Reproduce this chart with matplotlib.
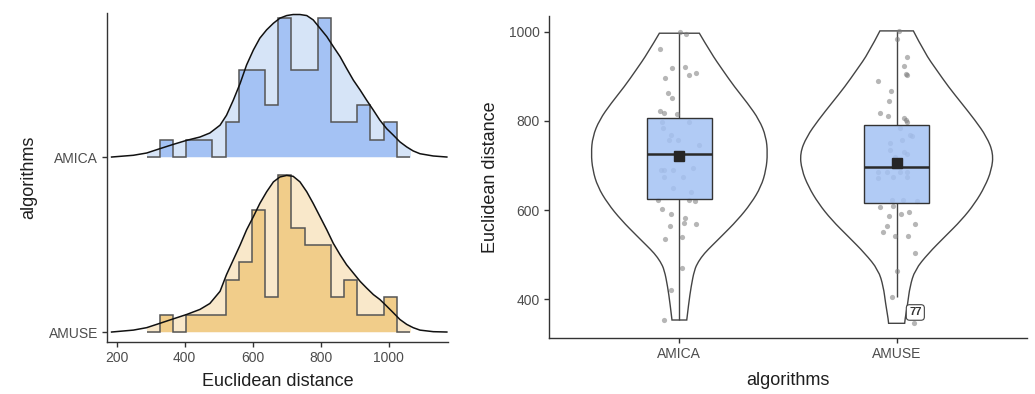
import numpy as np
import matplotlib.pyplot as plt
from matplotlib.patches import Rectangle, PathPatch
from matplotlib.path import Path

plt.rcParams['font.family'] = ['Liberation Sans', 'DejaVu Sans']

# ---------------- data ----------------
categories = ["AMICA", "AMUSE"]

# left panel: histogram (counts per bin)
bin_start = 288.2
bin_width = 38.7
amica_counts = [0, 1, 0, 1, 1, 0, 2, 5, 5, 3, 8, 5, 5, 8, 2, 2, 3, 1, 2, 0]
amuse_counts = [0, 1, 0, 1, 1, 1, 3, 4, 7, 2, 9, 6, 5, 5, 2, 3, 1, 1, 2, 0]

# left panel: density curves (height expressed in count units)
dens_x = [185, 249, 288, 327, 367, 406, 445, 474, 504, 523, 543, 563, 582, 602,
          621, 641, 661, 680, 700, 719, 739, 759, 778, 798, 818, 837, 857, 876,
          896, 916, 935, 955, 974, 994, 1014, 1033, 1053, 1072, 1092, 1131, 1171]
amica_dens = [0, 0.1, 0.23, 0.48, 0.73, 0.96, 1.15, 1.38, 1.83, 2.4, 3.27, 4.23,
              5.29, 6.15, 6.83, 7.31, 7.69, 7.98, 8.13, 8.19, 8.19, 8.13, 7.88,
              7.4, 6.92, 6.35, 5.77, 5.1, 4.42, 3.85, 3.27, 2.69, 2.12, 1.63,
              1.25, 0.87, 0.58, 0.35, 0.19, 0.06, 0]
amuse_dens = [0, 0.11, 0.25, 0.5, 0.76, 1.01, 1.3, 1.64, 2.34, 3.3, 4.15, 5.0,
              5.87, 6.63, 7.39, 8.06, 8.63, 8.91, 9.0, 8.95, 8.63, 8.06, 7.39,
              6.63, 5.87, 5.1, 4.44, 3.87, 3.39, 2.91, 2.53, 2.15, 1.87, 1.49,
              1.1, 0.72, 0.44, 0.25, 0.11, 0.02, 0]

# right panel: violin outlines (half widths in category units)
amica_vlevels = [996.4, 951.6, 914, 876.7, 839.5, 802, 764.6, 727.3, 690, 652.5,
                 615, 577.8, 540.4, 521.7, 503, 484.3, 465.7, 428.3, 391, 353.6]
amica_vhalf = [0.092, 0.146, 0.199, 0.253, 0.314, 0.368, 0.399, 0.406, 0.399,
               0.376, 0.330, 0.268, 0.192, 0.153, 0.115, 0.087, 0.069, 0.054,
               0.043, 0.034]
amuse_vlevels = [1001.6, 951.6, 914, 876.7, 839.5, 802, 764.6, 727.3, 690, 652.5,
                 615, 577.8, 540.4, 503, 465.7, 428.3, 391, 353.6, 346.2]
amuse_vhalf = [0.077, 0.130, 0.184, 0.238, 0.299, 0.360, 0.414, 0.445, 0.437,
               0.406, 0.360, 0.299, 0.222, 0.146, 0.084, 0.061, 0.051, 0.038,
               0.037]

# right panel: box statistics
box_q1 = [625, 615]
box_median = [725.8, 697.3]
box_q3 = [807, 790.8]
whisker_lo = [353.6, 404.5]
whisker_hi = [996.4, 1001.6]
box_mean = [721, 705]

# right panel: jittered points (offset from category centre, value)
amica_jit = [0.003, 0.031, -0.089, -0.035, 0.026, 0.046, 0.077, -0.064, -0.051,
             -0.035, -0.089, -0.069, -0.012, -0.078, -0.074, 0.046, -0.038,
             -0.046, -0.008, 0.092, -0.084, -0.069, -0.031, 0.061, -0.069, 0.015,
             -0.031, 0.054, -0.100, 0.043, 0.074, -0.082, -0.038, 0.026, 0.020,
             -0.043, 0.077, 0.011, -0.066, 0.011, -0.038, -0.072]
amica_pts = [998.6, 994.8, 961.2, 919.3, 921.6, 902.9, 908, 895.5, 863.2, 852,
             822.2, 817.7, 816.1, 796.9, 783.4, 796.9, 768.4, 757.2, 757.2, 746,
             690, 690, 690, 693.7, 674.9, 674.9, 648.9, 641.3, 622.6, 622.6,
             620.4, 602.5, 591.3, 583, 571.7, 564.3, 568, 540.4, 534.5, 469.5,
             420.9, 353.6]
amuse_jit = [0.011, 0.003, 0.046, 0.034, 0.049, 0.043, -0.084, -0.026, -0.034,
             -0.077, -0.038, 0.034, 0.043, 0.049, 0.015, 0.063, 0.070, 0.023,
             -0.031, -0.031, 0.032, 0.047, -0.008, -0.084, -0.046, 0.015, 0.046,
             -0.084, 0.046, -0.015, -0.023, 0.031, 0.092, -0.077, -0.015, -0.035,
             0.020, 0.058, 0.084, -0.046, -0.064, -0.008, 0.054, 0.084, 0.003,
             -0.023, 0.079]
amuse_pts = [1002, 983.6, 944, 923.8, 903, 905, 889.5, 867, 844.6, 817, 811, 807,
             802, 797, 783, 768, 766, 757, 749.7, 735, 730, 726, 719.7, 685.4,
             685.4, 685.4, 685.4, 672, 675, 675, 622.6, 622.6, 621, 606.3, 610,
             587.5, 591.3, 596.4, 568.8, 564.3, 550, 541.9, 541.9, 504.5, 464.2,
             404.5, 347.5]
outlier_label = "77"
outlier_value = 347.5
outlier_offset = 0.079

# ---------------- styling ----------------
hist_dark = ["#a4c2f4", "#f1cd8a"]
hist_light = ["#d6e4f7", "#f9e8ca"]
axis_col = "#333333"
tick_col = "#4d4d4d"
title_col = "#1f1f1f"

fig = plt.figure(figsize=(10.35, 3.94), dpi=100)
ax1 = fig.add_axes([107 / 1035, 1 - 342 / 394, (448 - 107) / 1035, (342 - 13) / 394])
ax2 = fig.add_axes([549 / 1035, 1 - 338.3 / 394, (1027 - 549) / 1035, (338.3 - 16) / 394])

# ---------------- left: ridgeline histograms ----------------
k = 17.4 / 175.0  # count -> category units
edges = bin_start + bin_width * np.arange(len(amica_counts) + 1)
series = [(amica_counts, amica_dens, 1.0, 0), (amuse_counts, amuse_dens, 0.0, 1)]
for counts, dens, base, ci in series:
    counts = np.asarray(counts, float)
    dens = np.asarray(dens, float)
    x = np.asarray(dens_x, float)
    poly = ax1.fill_between(x, base, base + dens * k, color=hist_light[ci], lw=0, zorder=1)
    clip = Rectangle((edges[0], base), edges[-1] - edges[0], 2, transform=ax1.transData)
    poly.set_clip_path(clip)
    ax1.stairs(base + counts * k, edges, baseline=base, fill=True,
               color=hist_dark[ci], lw=0, zorder=2)
    ax1.stairs(base + counts * k, edges, baseline=base, fill=False,
               edgecolor="#555555", lw=1.1, zorder=3)
    ax1.plot(x, base + dens * k, color="#111111", lw=1.1, zorder=4)

ax1.set_xlim(171.5, 1174.4)
ax1.set_ylim(-0.057, 1.823)
ax1.set_xticks([200, 400, 600, 800, 1000])
ax1.set_yticks([1.0, 0.0])
ax1.set_yticklabels(categories)
ax1.set_xlabel("Euclidean distance", fontsize=13, color=title_col, labelpad=6)
ax1.set_ylabel("algorithms", fontsize=13, color=title_col, labelpad=8)


# ---------------- right: violin + box + jitter ----------------
def smooth_side(pts, verts, codes):
    """quadratic B-spline through the read outline points (ends kept)."""
    n = len(pts)
    for i in range(1, n - 1):
        end = pts[n - 1] if i == n - 2 else ((pts[i][0] + pts[i + 1][0]) / 2,
                                             (pts[i][1] + pts[i + 1][1]) / 2)
        verts += [pts[i], end]
        codes += [Path.CURVE3, Path.CURVE3]


pts = [(amica_jit, amica_pts), (amuse_jit, amuse_pts)]
viol = [(amica_vlevels, amica_vhalf), (amuse_vlevels, amuse_vhalf)]
for i in range(2):
    c = i + 1
    lv = list(viol[i][0])
    hw = list(viol[i][1])
    right = [(c + w, y) for w, y in zip(hw, lv)]
    left = [(c - w, y) for w, y in zip(hw, lv)][::-1]
    verts = [left[-1], right[0]]
    codes = [Path.MOVETO, Path.LINETO]
    smooth_side(right, verts, codes)
    verts.append(left[0])
    codes.append(Path.LINETO)
    smooth_side(left, verts, codes)
    verts.append(left[-1])
    codes.append(Path.CLOSEPOLY)
    ax2.add_patch(PathPatch(Path(verts, codes), facecolor="white",
                            edgecolor="#444444", lw=1.0, zorder=1))
    ax2.vlines(c, box_q3[i], whisker_hi[i], color="#444444", lw=1.0, zorder=2)
    ax2.vlines(c, whisker_lo[i], box_q1[i], color="#444444", lw=1.0, zorder=2)
    ax2.scatter(c + np.asarray(pts[i][0]), pts[i][1], s=14, color="#7a7a7a",
                alpha=0.55, lw=0, zorder=3)
    ax2.add_patch(Rectangle((c - 0.151, box_q1[i]), 0.302, box_q3[i] - box_q1[i],
                            facecolor="#a4c2f4", alpha=0.85, edgecolor="none", zorder=4))
    ax2.add_patch(Rectangle((c - 0.151, box_q1[i]), 0.302, box_q3[i] - box_q1[i],
                            facecolor="none", edgecolor="#333333", lw=1.0, zorder=5))
    ax2.hlines(box_median[i], c - 0.151, c + 0.151, color="#2a2a2a", lw=1.8, zorder=6)
    ax2.plot(c, box_mean[i], marker="s", ms=6.5, color="#262626", zorder=7)

ax2.text(2 + outlier_offset + 0.007, outlier_value + 23, outlier_label, fontsize=8,
         fontweight="bold", color="#333333", ha="center", va="center", zorder=8,
         bbox=dict(boxstyle="round,pad=0.25,rounding_size=0.3", fc="white",
                   ec="#444444", lw=0.8))

ax2.set_xlim(0.4, 2.6)
ax2.set_ylim(312.6, 1035)
ax2.set_xticks([1, 2])
ax2.set_xticklabels(categories)
ax2.set_yticks([400, 600, 800, 1000])
ax2.set_xlabel("algorithms", fontsize=13, color=title_col, labelpad=8)
ax2.set_ylabel("Euclidean distance", fontsize=13, color=title_col, labelpad=7)

for ax in (ax1, ax2):
    for s in ("top", "right"):
        ax.spines[s].set_visible(False)
    for s in ("left", "bottom"):
        ax.spines[s].set_color(axis_col)
        ax.spines[s].set_linewidth(1.0)
    ax.tick_params(direction="out", length=3.5, width=1.0, color=axis_col,
                   labelcolor=tick_col, labelsize=10, pad=3)

fig.savefig("out.png", dpi=100)
